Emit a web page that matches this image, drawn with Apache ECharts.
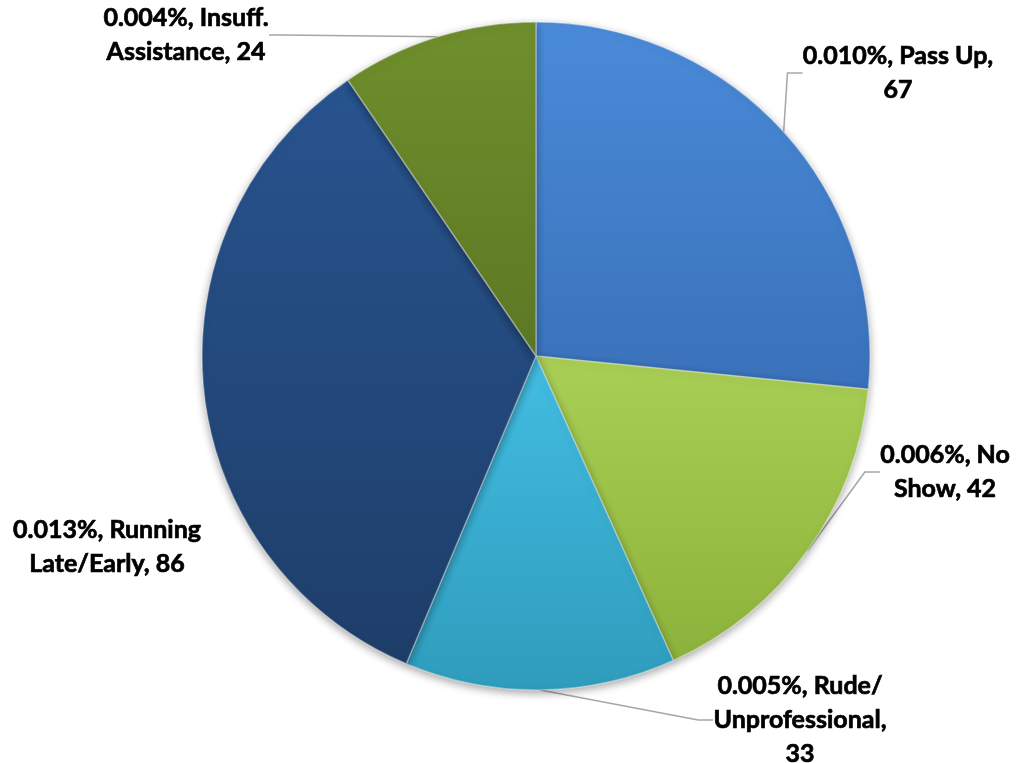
<!DOCTYPE html>
<html>
<head>
<meta charset="utf-8">
<style>
  html, body { margin: 0; padding: 0; background: #ffffff; }
  #chart { width: 1025px; height: 763px; }
</style>
<script src="https://cdn.jsdelivr.net/npm/echarts@6/dist/echarts.min.js"></script>
</head>
<body>
<div id="chart"></div>
<script>
// Complaint categories, counts and share of trips
var categories = ['Pass Up', 'No Show', 'Rude/ Unprofessional', 'Running Late/Early', 'Insuff. Assistance'];
var counts = [67, 42, 33, 86, 24];
var shares = ['0.010%', '0.006%', '0.005%', '0.013%', '0.004%'];

// Slice colours (top, bottom of each gradient)
var topColors = ['#4a8bd9', '#a9cf55', '#42bde2', '#28548f', '#708f2d'];
var bottomColors = ['#3a71ba', '#8db23b', '#2f9cbc', '#1e3e69', '#5d7824'];

// How each label text wraps: [after share, inside name, after name]
var wraps = [
  [' ', ' ', '\n'],
  [' ', '\n', ' '],
  [' ', '\n', '\n'],
  [' ', '\n', ' '],
  [' ', '\n', ' ']
];

// Label anchor placement around the pie
var labelSpots = [
  { x: 898, y: 73 },
  { x: 945, y: 472 },
  { x: 800, y: 720 },
  { x: 107, y: 547 },
  { x: 186, y: 35 }
];

function labelText(i) {
  var w = wraps[i];
  var name = categories[i].split(' ').join(w[1]);
  return shares[i] + ',' + w[0] + name + ',' + w[2] + counts[i];
}

var data = categories.map(function (c, i) {
  return {
    name: c,
    value: counts[i],
    itemStyle: {
      color: {
        type: 'linear', x: 0, y: 0, x2: 0, y2: 1,
        colorStops: [
          { offset: 0, color: topColors[i] },
          { offset: 1, color: bottomColors[i] }
        ]
      }
    },
    labelLine: { show: i !== 3 }
  };
});

var chart = echarts.init(document.getElementById('chart'), null, { renderer: 'canvas' });
chart.setOption({
  backgroundColor: '#ffffff',
  animation: false,
  series: [{
    type: 'pie',
    center: [536, 356],
    radius: [0, 334],
    startAngle: 90,
    clockwise: true,
    data: data,
    itemStyle: {
      borderColor: 'rgba(255,255,255,0.35)',
      borderWidth: 1.5,
      shadowBlur: 8,
      shadowColor: 'rgba(0,0,0,0.35)',
      shadowOffsetY: 3
    },
    label: {
      show: true,
      position: 'outside',
      overflow: 'none',
      edgeDistance: 0,
      bleedMargin: 0,
      formatter: function (p) { return labelText(p.dataIndex); },
      fontFamily: 'Lato',
      fontWeight: 'bold',
      fontSize: 25,
      lineHeight: 34,
      color: '#000000',
      textBorderColor: '#000000',
      textBorderWidth: 0.7,
      align: 'center'
    },
    labelLine: {
      show: true,
      length: 20,
      length2: 15,
      lineStyle: { color: '#a6a6a6', width: 1.5 }
    },
    labelLayout: function (params) {
      var s = labelSpots[params.dataIndex];
      return { x: s.x, y: s.y, align: 'center', verticalAlign: 'middle' };
    }
  }]
});
</script>
</body>
</html>
